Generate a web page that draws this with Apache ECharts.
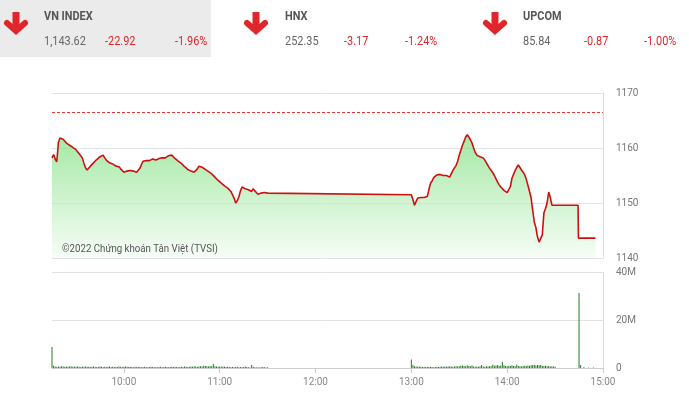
<!DOCTYPE html>
<html><head><meta charset="utf-8">
<script src="https://cdn.jsdelivr.net/npm/echarts@6/dist/echarts.min.js"></script>
<style>html,body{margin:0;padding:0;background:#fff}#c{width:689px;height:401px}</style>
</head><body><div id="c"></div>
<script>
// ---- header data ----
const indexNames = ['VN INDEX', 'HNX', 'UPCOM'];
const indexValues = ['1,143.62', '252.35', '85.84'];
const indexChanges = ['-22.92', '-3.17', '-0.87'];
const indexPercents = ['-1.96%', '-1.24%', '-1.00%'];

// ---- price data (minutes since midnight) ----
const referencePrice = 1166.54;
const morningStart = 555;   // 9:15, one value per minute
const priceMorning = [
 1158.2,1158.8,1158.0,1157.5,1161.0,1161.8,1161.5,1161.6,1161.3,1160.9,
 1160.6,1160.5,1160.3,1160.1,1160.0,1159.7,1159.3,1159.0,1158.6,1158.2,
 1157.2,1156.4,1156.0,1156.3,1156.7,1156.9,1157.3,1157.6,1157.9,1158.2,
 1158.4,1158.3,1158.7,1158.2,1157.8,1157.6,1157.3,1157.4,1157.1,1156.9,
 1156.7,1156.5,1156.6,1156.2,1155.9,1155.6,1155.5,1155.8,1156.0,1155.9,
 1156.0,1155.8,1155.7,1155.6,1155.6,1156.3,1157.0,1157.6,1157.8,1157.7,
 1157.9,1157.7,1157.8,1158.0,1157.8,1157.8,1158.0,1158.1,1158.0,1158.2,
 1158.3,1158.2,1158.5,1158.6,1158.5,1158.7,1158.4,1158.1,1157.8,1157.6,
 1157.5,1157.2,1156.9,1156.6,1156.3,1156.1,1156.0,1155.8,1155.7,1155.6,
 1155.6,1156.2,1156.7,1156.7,1156.5,1156.3,1156.1,1156.0,1155.7,1155.5,
 1155.3,1155.1,1154.7,1154.4,1154.1,1153.8,1153.6,1153.4,1153.1,1152.9,
 1152.7,1152.4,1152.1,1151.8,1150.9,1150.0,1150.4,1151.1,1152.2,1152.9,
 1152.7,1152.6,1152.5,1152.4,1152.4,1152.1,1152.6,1152.2,1152.0,1151.6,
 1151.5,1151.8,1151.7,1151.9,1151.8,1151.8
];
const afternoonStart = 780; // 13:00, one value per minute
const priceAfternoon = [
 1151.5,1150.6,1149.6,1150.3,1150.9,1150.6,1151.0,1150.8,1151.0,1150.9,
 1151.2,1152.4,1153.6,1154.0,1154.6,1154.9,1155.1,1155.0,1155.2,1154.9,
 1155.0,1154.8,1155.0,1154.7,1154.7,1155.3,1155.9,1156.4,1156.8,1157.6,
 1158.7,1159.6,1160.5,1161.2,1162.0,1162.4,1162.0,1161.5,1160.9,1160.0,
 1159.2,1158.7,1158.6,1158.4,1158.3,1158.2,1157.8,1157.3,1156.8,1156.3,
 1155.9,1155.5,1155.0,1154.4,1153.8,1153.3,1152.9,1152.6,1152.3,1152.2,
 1151.9,1151.8,1153.0,1154.5,1155.2,1155.9,1156.5,1156.9,1156.6,1156.0,
 1155.6,1155.1,1154.3,1153.2,1152.1,1150.9,1148.6,1146.5,1145.5,1143.8,
 1142.9,1143.2,1144.2,1148.2,1149.0,1150.0,1152.0,1151.0,1149.6,1149.6
];
const atcTimes = [884.4, 884.6, 895.3];
const atcPrices = [1149.6, 1143.62, 1143.62];

// ---- volume data (millions of shares, per minute) ----
const volMorning = [
 8.7,0.9,0.6,0.5,0.6,0.5,0.7,0.6,0.5,0.6,0.5,0.6,0.7,0.5,0.6,0.5,0.6,0.5,0.4,0.6,
 0.5,0.6,0.5,0.5,0.4,0.5,0.6,0.5,0.4,0.5,0.6,0.5,0.4,0.5,0.4,0.5,0.6,0.4,0.5,0.4,
 0.5,0.4,0.6,0.5,0.4,0.5,0.6,0.5,0.4,0.5,0.4,0.3,0.5,0.4,0.5,0.4,0.3,0.4,0.5,0.4,
 0.3,0.4,0.5,0.4,0.3,0.4,0.3,0.4,0.5,0.3,0.4,0.5,0.4,0.3,0.4,0.5,0.4,0.5,0.4,0.3,
 0.4,0.5,0.4,0.6,0.5,0.4,0.5,0.6,0.5,0.7,0.6,0.5,0.6,0.7,0.6,0.9,0.8,0.7,0.6,0.8,
 0.7,1.7,0.7,0.6,0.5,0.6,0.5,0.6,0.5,0.4,0.5,0.4,0.3,0.4,0.3,0.4,0.5,0.3,0.4,0.3,
 0.4,0.6,0.4,0.3,0.2,1.3,0.5,0.3,0.2,0.3,0.2,0.3,0.4,0.3,0.2,0.3
];
const volAfternoon = [
 3.5,1.2,0.7,0.6,0.5,0.6,0.5,0.4,0.5,0.4,0.5,0.4,0.5,0.4,0.3,0.4,0.5,0.4,0.5,0.6,
 0.5,0.6,0.5,0.6,0.7,0.6,0.5,0.6,0.7,0.6,0.7,0.9,1.0,0.8,0.7,1.1,0.8,0.7,1.0,0.6,
 0.5,0.6,0.5,0.7,1.3,0.6,0.5,0.7,0.6,0.8,0.7,1.4,0.9,1.0,1.2,0.8,1.0,2.6,1.1,0.8,
 0.7,0.9,0.8,1.1,0.8,0.7,1.5,0.8,0.7,0.6,0.8,0.9,0.8,1.0,0.9,1.1,1.2,1.3,1.0,1.3,
 1.1,1.2,0.9,0.8,0.9,0.7,0.8,0.6,0.7,0.6,0.5
];
const volAtcTimes = [885, 886, 888, 891, 894];
const volAtcValues = [31.3, 1.2, 0.3, 0.2, 0.2];

// ---- axis ticks ----
const xTickValues = [600, 660, 720, 780, 840, 900];
const xTickLabels = ['10:00', '11:00', '12:00', '13:00', '14:00', '15:00'];
const priceTickValues = [1140, 1150, 1160, 1170];
const volTickValues = [0, 20, 40];
const volTickLabels = ['0', '20M', '40M'];
const watermark = '©2022 Chứng khoán Tân Việt (TVSI)';

// ---- build series data ----
const priceData = [];
priceMorning.forEach((v, i) => priceData.push([morningStart + i, v]));
priceAfternoon.forEach((v, i) => priceData.push([afternoonStart + i, v]));
atcTimes.forEach((t, i) => priceData.push([t, atcPrices[i]]));

const volData = [];
volMorning.forEach((v, i) => volData.push([morningStart + i, v]));
volAfternoon.forEach((v, i) => volData.push([afternoonStart + i, v]));
volAtcTimes.forEach((t, i) => volData.push([t, volAtcValues[i]]));

const FONT = 'Roboto, sans-serif';
const RED = '#e0262b';
const SX = 0.84; // condensed look

// ---- header graphics ----
const colArrowX = [4, 244, 483];
const colTextX = [44, 285, 523];
const colChangeX = [105, 344, 584];
const colPctX = [175, 405, 644];
const graphics = [
  { type: 'rect', left: 0, top: 0, shape: { width: 211, height: 57 }, style: { fill: '#ebebeb' }, z: -1 }
];
indexNames.forEach((n, i) => {
  graphics.push({ type: 'polyline', x: colArrowX[i], y: 12,
    shape: { points: [[12, 0], [12, 19]] },
    style: { stroke: RED, lineWidth: 7, fill: null } });
  graphics.push({ type: 'polyline', x: colArrowX[i], y: 12,
    shape: { points: [[3, 11], [12, 19], [21, 11]] },
    style: { stroke: RED, lineWidth: 6, fill: null, lineJoin: 'miter', lineCap: 'round' } });
  graphics.push({ type: 'text', x: colTextX[i], y: 10, scaleX: SX,
    style: { text: n, fill: '#555', font: 'bold 13px ' + FONT } });
  graphics.push({ type: 'text', x: colTextX[i], y: 35, scaleX: SX,
    style: { text: indexValues[i], fill: '#666', font: '13px ' + FONT } });
  graphics.push({ type: 'text', x: colChangeX[i], y: 35, scaleX: SX,
    style: { text: indexChanges[i], fill: RED, font: '13px ' + FONT } });
  graphics.push({ type: 'text', x: colPctX[i], y: 35, scaleX: SX,
    style: { text: indexPercents[i], fill: RED, font: '13px ' + FONT } });
});
graphics.push({ type: 'text', x: 62, y: 244, z: 100, scaleX: 0.88,
  style: { text: watermark, fill: '#555', font: '11px Roboto, sans-serif' } });

const chart = echarts.init(document.getElementById('c'), null, { renderer: 'canvas' });
chart.setOption({
  animation: false,
  backgroundColor: '#fff',
  graphic: graphics,
  grid: [
    { left: 52, right: 86, top: 93, height: 165 },
    { left: 52, right: 86, top: 272, height: 96 }
  ],
  xAxis: [
    { type: 'value', gridIndex: 0, min: 555, max: 900,
      axisLine: { show: false }, axisTick: { show: false }, axisLabel: { show: false }, splitLine: { show: false } },
    { type: 'value', gridIndex: 1, min: 555, max: 900,
      axisLine: { show: true, lineStyle: { color: '#ccc' } },
      axisTick: { show: true, customValues: xTickValues, length: 5, lineStyle: { color: '#ccc' } },
      axisLabel: { customValues: xTickValues, color: '#888', fontSize: 10, margin: 9, fontFamily: 'Roboto',
        formatter: v => xTickLabels[xTickValues.indexOf(v)] },
      splitLine: { show: false } }
  ],
  yAxis: [
    { type: 'value', gridIndex: 0, position: 'right', min: 1140, max: 1170, interval: 10,
      axisLine: { show: true, lineStyle: { color: '#ddd' } }, axisTick: { show: false },
      axisLabel: { color: '#777', fontSize: 10, margin: 13, fontFamily: 'Roboto',
        formatter: v => priceTickValues.includes(v) ? String(v) : '' },
      splitLine: { lineStyle: { color: '#e2e2e2' } } },
    { type: 'value', gridIndex: 1, position: 'right', min: 0, max: 40, interval: 20,
      axisLine: { show: true, lineStyle: { color: '#ddd' } }, axisTick: { show: false },
      axisLabel: { color: '#777', fontSize: 10, margin: 13, fontFamily: 'Roboto',
        formatter: v => volTickLabels[volTickValues.indexOf(v)] },
      splitLine: { lineStyle: { color: '#e2e2e2' } } }
  ],
  series: [
    { type: 'line', xAxisIndex: 0, yAxisIndex: 0, data: priceData, showSymbol: false,
      lineStyle: { color: '#cc1111', width: 1.6 },
      areaStyle: { color: new echarts.graphic.LinearGradient(0, 0, 0, 1, [
        { offset: 0, color: '#7ddf7d' }, { offset: 1, color: '#f3fcf3' }]) },
      markLine: { silent: true, symbol: 'none', label: { show: false },
        lineStyle: { color: '#e33', type: [3, 2], width: 1 },
        data: [{ yAxis: referencePrice }] } },
    { type: 'bar', xAxisIndex: 1, yAxisIndex: 1, data: volData, barWidth: 1,
      itemStyle: { color: '#1f7d1f' } }
  ]
});
</script></body></html>
